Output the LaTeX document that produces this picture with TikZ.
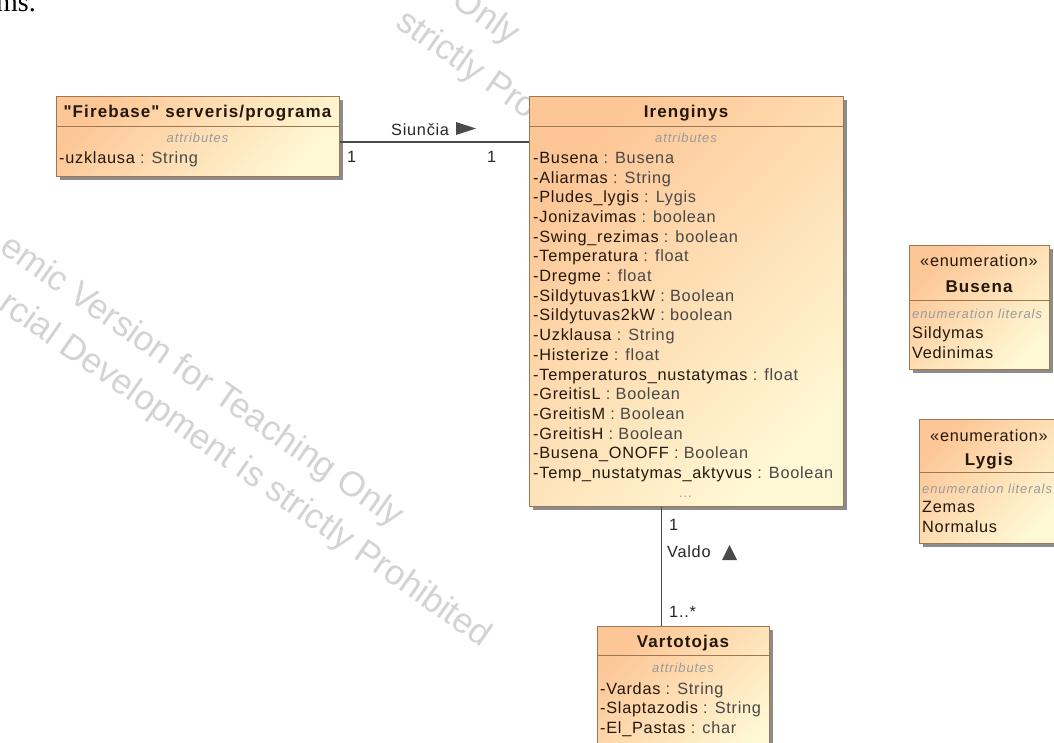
\documentclass[tikz,border=0pt]{standalone}
\usepackage{fontspec}
\setmainfont{Liberation Sans}
\newfontfamily\umlfont[LetterSpace=4.5]{Liberation Sans}
\newfontfamily\umlboldfont[LetterSpace=6.5]{Liberation Sans}
\newfontfamily\umlmetafont[LetterSpace=7]{Liberation Sans}
\newfontfamily\wmfont{Liberation Sans}
\newfontfamily\docfont{Liberation Serif}
\usetikzlibrary{shadows,calc}

\definecolor{umlorange}{HTML}{FDC696}
\definecolor{umlyellow}{HTML}{FFF8D4}
\definecolor{umlborder}{HTML}{9C7852}
\definecolor{umlname}{HTML}{24180C}
\definecolor{umltype}{HTML}{484848}
\definecolor{umlmeta}{HTML}{9A9A9A}
\definecolor{umlline}{HTML}{4A4A4A}
\definecolor{wmgray}{HTML}{D3D3D3}

% attribute name and type parts (the space goes outside \textcolor)
\newcommand\nm[1]{\textcolor{umlname}{#1}}
\newcommand\ty[1]{\textcolor{umltype}{#1}}

\tikzset{
  classbox/.style={rectangle, draw=umlborder, line width=0.9pt,
    top color=umlorange, bottom color=umlyellow, shading angle=45,
    inner sep=0, anchor=north west,
    drop shadow={shadow xshift=3.5pt, shadow yshift=-3.5pt, fill=black, opacity=0.45}},
  sepline/.style={draw=umlborder, line width=0.9pt},
  classtitle/.style={anchor=base, inner sep=0, text=umlname,
    font=\umlboldfont\bfseries\fontsize{17}{20}\selectfont},
  stereo/.style={anchor=base, inner sep=0, text=umlname,
    font=\umlfont\fontsize{16.3}{19.7}\selectfont},
  meta/.style={inner sep=0, text=umlmeta,
    font=\umlmetafont\itshape\fontsize{13}{16}\selectfont},
  attr/.style={anchor=base west, inner sep=0,
    font=\umlfont\fontsize{16.3}{19.7}\selectfont},
  literal/.style={anchor=base west, inner sep=0, text=umlname,
    font=\umlfont\fontsize{16.3}{19.7}\selectfont},
  conn/.style={draw=umlline, line width=1.4pt},
  connlabel/.style={anchor=base west, inner sep=0, text=black!85,
    font=\umlfont\fontsize{16.3}{19.7}\selectfont},
  dirmark/.style={fill=umlline},
  watermark/.style={inner sep=0, text=wmgray, rotate=-35, anchor=base east,
    font=\wmfont\fontsize{35}{42}\selectfont},
}

\begin{document}
\begin{tikzpicture}[x=1pt, y=-1pt]
  \useasboundingbox (0,0) rectangle (1054,742);
  \clip (0,0) rectangle (1054,742);
  \fill[white] (0,0) rectangle (1054,742);

  % running text of the surrounding page
  \node[anchor=base west, inner sep=0, font=\docfont\fontsize{28}{32}\selectfont] (pagetext) at (-4,11) {ms.};

  % tool watermark, two tiles
  \node[watermark] (wm1) at (510,46) {Only};
  \node[watermark] (wm2) at (528,120) {strictly Pro};
  \node[watermark] (wm3) at (394,528) {emic Version for Teaching Only};
  \node[watermark] (wm4) at (482,648) {rcial Development is strictly Prohibited};

  % ---------- "Firebase" serveris/programa ----------
  \node[classbox, minimum width=283pt, minimum height=80pt] (firebase) at (56,96) {};
  \draw[sepline] ($(firebase.north west)+(0,30)$) -- ++(283,0);
  \node[classtitle] (firebase-t) at (197.5,117) {"Firebase" serveris/programa};
  \node[meta, anchor=base] (firebase-m) at (197.5,142) {attributes};
  \node[attr] (firebase-a) at (59,163) {\nm{-uzklausa}\ \ty{: String}};

  % ---------- Irenginys ----------
  \node[classbox, minimum width=314pt, minimum height=410pt] (irenginys) at (529,96) {};
  \draw[sepline] ($(irenginys.north west)+(0,30)$) -- ++(314,0);
  \node[classtitle] (irenginys-t) at (686,117) {Irenginys};
  \node[meta, anchor=base] (irenginys-m) at (686,142) {attributes};
  \foreach \an/\at [count=\i from 0] in {
      -Busena/Busena, -Aliarmas/String, -Pludes\_lygis/Lygis,
      -Jonizavimas/boolean, -Swing\_rezimas/boolean, -Temperatura/float,
      -Dregme/float, -Sildytuvas1kW/Boolean, -Sildytuvas2kW/boolean,
      -Uzklausa/String, -Histerize/float, -Temperaturos\_nustatymas/float,
      -GreitisL/Boolean, -GreitisM/Boolean, -GreitisH/Boolean,
      -Busena\_ONOFF/Boolean, -Temp\_nustatymas\_aktyvus/Boolean}
    \node[attr] (irenginys-a\i) at (533,163.3+19.7*\i) {\nm{\an}\ \ty{: \at}};
  \node[meta, anchor=base] (irenginys-more) at (686,497) {...};

  % ---------- Vartotojas ----------
  \node[classbox, minimum width=172pt, minimum height=140pt] (vartotojas) at (597,626) {};
  \draw[sepline] ($(vartotojas.north west)+(0,29)$) -- ++(172,0);
  \node[classtitle] (vartotojas-t) at (683,647) {Vartotojas};
  \node[meta, anchor=base] (vartotojas-m) at (683,672) {attributes};
  \foreach \an/\at [count=\i from 0] in {-Vardas/String, -Slaptazodis/String, -El\_Pastas/char}
    \node[attr] (vartotojas-a\i) at (600,694+19.7*\i) {\nm{\an}\ \ty{: \at}};

  % ---------- enumeration Busena ----------
  \node[classbox, minimum width=140pt, minimum height=124pt] (busena) at (909,245) {};
  \draw[sepline] ($(busena.north west)+(0,55)$) -- ++(140,0);
  \node[stereo] (busena-s) at (979,266.5) {«enumeration»};
  \node[classtitle] (busena-t) at (979,292) {Busena};
  \node[meta, anchor=base west] (busena-m) at (912,318) {enumeration literals};
  \node[literal] (busena-l0) at (912,338.5) {Sildymas};
  \node[literal] (busena-l1) at (912,358.2) {Vedinimas};

  % ---------- enumeration Lygis ----------
  \node[classbox, minimum width=140pt, minimum height=124pt] (lygis) at (919,419) {};
  \draw[sepline] ($(lygis.north west)+(0,53)$) -- ++(140,0);
  \node[stereo] (lygis-s) at (989,441) {«enumeration»};
  \node[classtitle] (lygis-t) at (989,465) {Lygis};
  \node[meta, anchor=base west] (lygis-m) at (922,493) {enumeration literals};
  \node[literal] (lygis-l0) at (922,512.7) {Zemas};
  \node[literal] (lygis-l1) at (922,532.4) {Normalus};

  % ---------- associations ----------
  \coordinate (siuncia-y) at (0,142);
  \draw[conn] (firebase.east |- siuncia-y) -- (irenginys.west |- siuncia-y);
  \node[connlabel] (siuncia) at (391,135) {Siunčia};
  \fill[dirmark] (456,122) -- (476,128.5) -- (456,135) -- cycle;
  \node[connlabel] (siuncia-m1) at (347,162) {1};
  \node[connlabel] (siuncia-m2) at (487,162) {1};

  \coordinate (valdo-x) at (661.5,0);
  \draw[conn] (irenginys.south -| valdo-x) -- (vartotojas.north -| valdo-x);
  \node[connlabel] (valdo-m1) at (669,530) {1};
  \node[connlabel] (valdo) at (667,557) {Valdo};
  \fill[dirmark] (722,560) -- (729.5,545) -- (737,560) -- cycle;
  \node[connlabel] (valdo-m2) at (669,617) {1..*};
\end{tikzpicture}
\end{document}
